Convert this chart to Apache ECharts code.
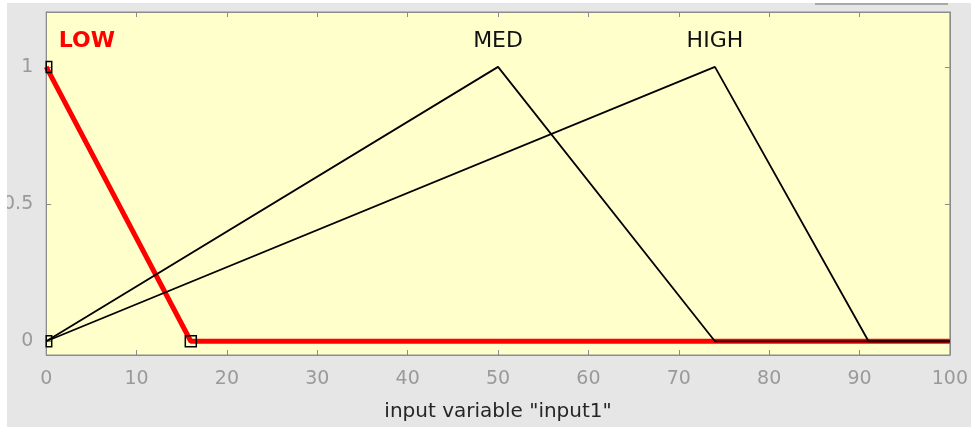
<!DOCTYPE html>
<html>
<head>
<meta charset="utf-8">
<script src="https://cdn.jsdelivr.net/npm/echarts@6/dist/echarts.min.js"></script>
<style>
html,body{margin:0;padding:0;background:#ffffff;}
#chart{position:absolute;left:0;top:0;width:971px;height:427px;}
</style>
</head>
<body>
<div id="chart"></div>
<script>
// Membership functions of input variable "input1"
const lowMF  = [[0, 1], [16, 0], [100, 0]];
const medMF  = [[0, 0], [50, 1], [74, 0], [100, 0]];
const highMF = [[0, 0], [74, 1], [91, 0], [100, 0]];
// Vertex markers of the selected (LOW) function
const markerPts = [[0, 1], [0, 0], [16, 0]];
// MF name labels (name, x, y)
const mfNames = ['LOW', 'MED', 'HIGH'];
const mfLabelX = [4.5, 50, 74];
const mfLabelY = [1.095, 1.095, 1.095];
const xTicks = [0, 10, 20, 30, 40, 50, 60, 70, 80, 90, 100];
const yTicks = [0, 0.5, 1];

const chart = echarts.init(document.getElementById('chart'), null, {renderer: 'canvas'});
const axisGray = '#8c8c8c';
const font = 'DejaVu Sans';

const labelData = mfNames.map((n, i) => ({
  value: [mfLabelX[i], mfLabelY[i]],
  name: n,
  label: i === 0
    ? {color: '#ff0000', fontWeight: 'bold', fontSize: 22}
    : {color: '#111111', fontWeight: 'normal', fontSize: 22}
}));

const option = {
  backgroundColor: 'transparent',
  animation: false,
  graphic: [
    {type: 'rect', z: -10, silent: true, shape: {x: 0, y: 0, width: 971, height: 427}, style: {fill: '#e6e6e6'}},
    {type: 'rect', z: 100, silent: true, shape: {x: 0, y: 0, width: 7, height: 427}, style: {fill: '#ffffff'}},
    {type: 'rect', z: 100, silent: true, shape: {x: 0, y: 0, width: 971, height: 3}, style: {fill: '#ffffff'}},
    {type: 'rect', z: 100, silent: true, shape: {x: 815, y: 3, width: 133, height: 2}, style: {fill: '#a8a8a8'}}
  ],
  grid: {
    left: 46, right: 18, top: 12, bottom: 71,
    show: true, backgroundColor: '#ffffcc', borderColor: axisGray, borderWidth: 1
  },
  xAxis: [
    {
      type: 'value', min: 0, max: 100, interval: 10,
      axisLine: {show: true, onZero: false, lineStyle: {color: axisGray}},
      axisTick: {show: true, inside: true, length: 5, lineStyle: {color: axisGray}},
      axisLabel: {show: true, margin: 15, fontSize: 19, color: '#9a9a9a', fontFamily: font},
      splitLine: {show: false},
      name: 'input variable "input1"',
      nameLocation: 'middle', nameGap: 47,
      nameTextStyle: {fontSize: 20, color: '#262626', fontFamily: font}
    },
    {
      type: 'value', min: 0, max: 100, interval: 10, position: 'top',
      axisLine: {show: true, onZero: false, lineStyle: {color: axisGray}},
      axisTick: {show: true, inside: true, length: 5, lineStyle: {color: axisGray}},
      axisLabel: {show: false},
      splitLine: {show: false}
    }
  ],
  yAxis: [
    {
      type: 'value', min: -0.05, max: 1.2,
      axisLine: {show: true, onZero: false, lineStyle: {color: axisGray}},
      axisTick: {show: true, inside: true, length: 5, lineStyle: {color: axisGray}, customValues: yTicks},
      axisLabel: {show: true, margin: 13, fontSize: 19, color: '#9a9a9a', fontFamily: font, customValues: yTicks,
        formatter: v => String(v)},
      splitLine: {show: false}
    },
    {
      type: 'value', min: -0.05, max: 1.2, position: 'right',
      axisLine: {show: true, onZero: false, lineStyle: {color: axisGray}},
      axisTick: {show: true, inside: true, length: 5, lineStyle: {color: axisGray}, customValues: yTicks},
      axisLabel: {show: false, customValues: yTicks},
      splitLine: {show: false}
    }
  ],
  series: [
    {
      name: 'LOW', type: 'line', data: lowMF, symbol: 'none', z: 2,
      lineStyle: {color: '#ff0000', width: 5}
    },
    {
      name: 'MED', type: 'line', data: medMF, symbol: 'none', z: 3,
      lineStyle: {color: '#000000', width: 1.8}
    },
    {
      name: 'HIGH', type: 'line', data: highMF, symbol: 'none', z: 3,
      lineStyle: {color: '#000000', width: 1.8}
    },
    {
      name: 'vertices', type: 'custom', z: 4, data: markerPts,
      renderItem: function (params, api) {
        const p = api.coord([api.value(0), api.value(1)]);
        const s = 11;
        const rect = echarts.graphic.clipRectByRect(
          {x: p[0] - s / 2, y: p[1] - s / 2, width: s, height: s},
          {x: params.coordSys.x, y: params.coordSys.y, width: params.coordSys.width, height: params.coordSys.height}
        );
        if (!rect) return null;
        return {
          type: 'rect', shape: rect,
          style: {fill: 'none', stroke: '#000000', lineWidth: 1.5}
        };
      }
    },
    {
      name: 'labels', type: 'scatter', symbolSize: 0, z: 5, data: labelData,
      itemStyle: {opacity: 1},
      label: {show: true, position: 'inside', formatter: '{b}', fontFamily: font}
    }
  ]
};
chart.setOption(option);
</script>
</body>
</html>
